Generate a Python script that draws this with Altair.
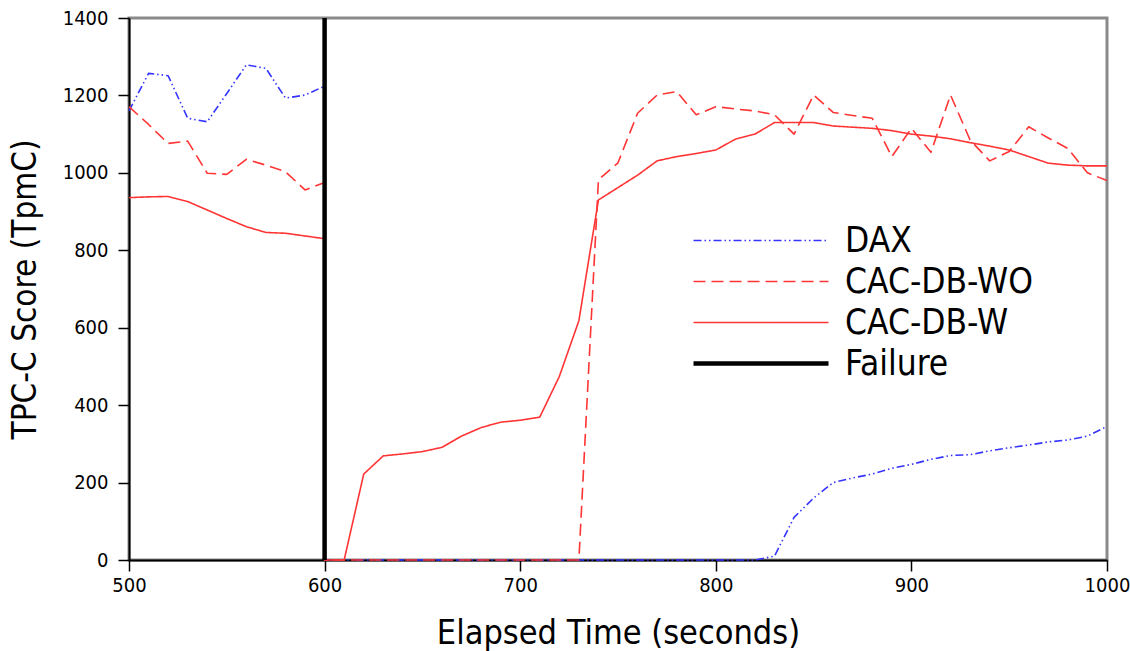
import altair as alt
import pandas as pd

# Sample times (seconds): before the failure and after it
t_pre = [500, 510, 520, 530, 540, 550, 560, 570, 580, 590, 600]
t_post = list(range(600, 1001, 10))

dax_pre = [1160, 1257, 1251, 1141, 1132, 1205, 1279, 1270, 1193, 1201, 1224]
dax_post = [0, 0, 0, 0, 0, 0, 0, 0, 0, 0, 0, 0, 0, 0, 0, 0, 0, 0, 0, 0, 0, 0, 0,
            10, 110, 160, 200, 212, 222, 237, 247, 260, 270, 272, 282, 290, 297,
            305, 310, 320, 345]

wo_pre = [1171, 1125, 1076, 1082, 999, 996, 1035, 1020, 1003, 956, 975]
wo_post = [0, 0, 0, 0, 0, 0, 0, 0, 0, 0, 0, 0, 0, 0,
           982, 1026, 1154, 1201, 1210, 1150, 1171, 1165, 1160, 1150, 1100, 1201,
           1156, 1148, 1141, 1042, 1115, 1053, 1201, 1085, 1031, 1055, 1119, 1090,
           1063, 1000, 980]

w_pre = [936, 938, 939, 926, 904, 882, 861, 846, 844, 837, 830]
w_post = [0, 0, 222, 269, 274, 280, 291, 320, 342, 356, 361, 369, 474, 618,
          930, 962, 994, 1031, 1042, 1050, 1059, 1087, 1100, 1130, 1130, 1130,
          1121, 1118, 1115, 1109, 1100, 1095, 1088, 1078, 1069, 1059, 1042, 1025,
          1020, 1018, 1018]

failure_t = [600, 600]
failure_v = [0, 1400]

series_names = ["DAX", "CAC-DB-WO", "CAC-DB-W", "Failure"]
series_colors = ["#3535ff", "#ff3535", "#ff3535", "#000000"]
series_dash = [[8, 3, 1.5, 3, 1.5, 3], [12, 6], [1, 0], [1, 0]]
series_width = [1.6, 1.6, 1.6, 4.5]

rows = []
for name, pre, post in [("DAX", dax_pre, dax_post),
                        ("CAC-DB-WO", wo_pre, wo_post),
                        ("CAC-DB-W", w_pre, w_post)]:
    ts = t_pre + t_post
    vs = pre + post
    for i, (t, v) in enumerate(zip(ts, vs)):
        rows.append({"series": name, "t": t, "v": v, "i": i})
for i, (t, v) in enumerate(zip(failure_t, failure_v)):
    rows.append({"series": "Failure", "t": t, "v": v, "i": i})

df = pd.DataFrame(rows)

font = "DejaVu Sans Condensed"

legend_common = dict(title=None, orient="none", legendX=562, legendY=202,
                     symbolType="stroke", symbolSize=18225,
                     labelFont=font, labelFontSize=35, labelLimit=400,
                     labelColor="#000000", labelOffset=14,
                     clipHeight=41, rowPadding=0, symbolFillColor="transparent")

chart = alt.Chart(df).mark_line(strokeCap="butt", strokeJoin="round").encode(
    x=alt.X("t:Q",
            scale=alt.Scale(domain=[500, 1000], nice=False, zero=False),
            axis=alt.Axis(title="Elapsed Time (seconds)", values=list(range(500, 1001, 100)),
                          format="d", grid=False, tickSize=11, labelPadding=4,
                          labelFlush=False, titlePadding=21, titleFontSize=34)),
    y=alt.Y("v:Q",
            scale=alt.Scale(domain=[0, 1400], nice=False),
            axis=alt.Axis(title="TPC-C Score (TpmC)", values=list(range(0, 1401, 200)),
                          format="d", grid=False, tickSize=11, labelPadding=10,
                          labelFlush=False, titlePadding=20, titleFontSize=33)),
    color=alt.Color("series:N",
                    scale=alt.Scale(domain=series_names, range=series_colors),
                    legend=alt.Legend(**legend_common)),
    strokeDash=alt.StrokeDash("series:N",
                              scale=alt.Scale(domain=series_names, range=series_dash),
                              legend=alt.Legend(**legend_common)),
    strokeWidth=alt.StrokeWidth("series:O",
                                scale=alt.Scale(type="ordinal", domain=series_names,
                                                range=series_width),
                                legend=alt.Legend(**legend_common)),
    detail="series:N",
    order="i:Q",
).properties(
    width=978,
    height=542,
    background="white",
    autosize=alt.AutoSizeParams(type="none"),
    padding={"left": 129, "top": 18, "right": 23, "bottom": 91},
).configure_view(
    stroke="#8a8a8a", strokeWidth=3
).configure_axis(
    domainColor="#000000", domainWidth=2, tickColor="#000000", tickWidth=1.5,
    labelFont=font, labelFontSize=20, labelColor="#000000",
    titleFont=font, titleFontWeight="normal", titleColor="#000000",
)

chart.save("out.html", embed_options={"renderer": "svg", "actions": False})
